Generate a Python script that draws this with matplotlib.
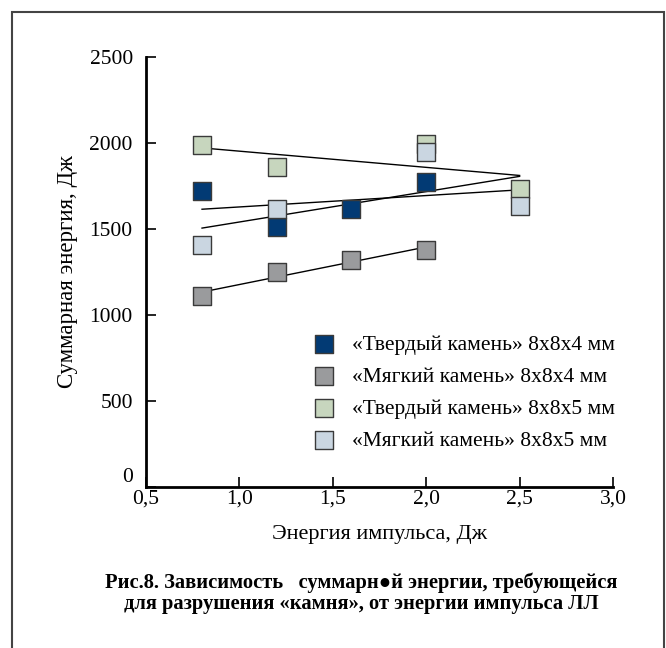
import numpy as np
import matplotlib
matplotlib.use('Agg')
from matplotlib import pyplot as plt
from matplotlib.patches import Rectangle

plt.rcParams['font.family'] = ['Liberation Serif', 'DejaVu Serif']

# Data
x_hard4 = [0.8, 1.2, 1.6, 2.0]
y_hard4 = [1720, 1510, 1616, 1773]
x_soft4 = [0.8, 1.2, 1.6, 2.0]
y_soft4 = [1110, 1250, 1320, 1378]
x_hard5 = [0.8, 1.2, 2.0, 2.5]
y_hard5 = [1988, 1860, 1994, 1733]
x_soft5 = [0.8, 1.2, 2.0, 2.5]
y_soft5 = [1407, 1616, 1948, 1634]

labels = ['«Твердый камень» 8x8x4 мм', '«Мягкий камень» 8x8x4 мм',
          '«Твердый камень» 8x8x5 мм', '«Мягкий камень» 8x8x5 мм']
colors = ['#023a74', '#9a9b9d', '#c7d6be', '#cad6e1']
# x range of each trend line
fit_ranges = [(0.8, 2.5), (0.8, 2.0), (0.8, 2.5), (0.8, 2.5)]

series = [(x_hard4, y_hard4), (x_soft4, y_soft4),
          (x_hard5, y_hard5), (x_soft5, y_soft5)]

fig = plt.figure(figsize=(6.66, 6.48), dpi=100)
ax = fig.add_axes([0.2192, 0.2485, 0.7012, 0.6635])

# trend lines (least squares)
for (xs, ys), (x0, x1) in zip(series, fit_ranges):
    k, b = np.polyfit(xs, ys, 1)
    xx = np.array([x0, x1])
    ax.plot(xx, k * xx + b, color='black', lw=1.0, zorder=2)

for (xs, ys), c, lab in zip(series, colors, labels):
    ax.scatter(xs, ys, marker='s', s=150, c=c, edgecolors='#3a3a3a',
               linewidths=1.0, label=lab, zorder=3)

ax.set_xlim(0.5, 3.0)
ax.set_ylim(0, 2500)
ax.set_xticks([0.5, 1.0, 1.5, 2.0, 2.5, 3.0])
ax.set_xticklabels(['0,5', '1,0', '1,5', '2,0', '2,5', '3,0'])
ax.set_yticks([0, 500, 1000, 1500, 2000, 2500])
for s in ['top', 'right']:
    ax.spines[s].set_visible(False)
for s in ['left', 'bottom']:
    ax.spines[s].set_linewidth(2.0)
ax.tick_params(direction='in', length=7, width=1.2, labelsize=15.5,
               colors='black')
ax.tick_params(axis='y', pad=9.5)
ax.tick_params(axis='x', pad=1.5)
# the "0" sits a little above the x axis
ax.yaxis.get_major_ticks()[0].label1.set_verticalalignment('bottom')

ax.set_xlabel('Энергия импульса, Дж', fontsize=16, labelpad=12)
ax.set_ylabel('Суммарная энергия, Дж', fontsize=16.5, labelpad=8)

ax.legend(loc='lower right', bbox_to_anchor=(1.046, 0.039), frameon=False,
          fontsize=15.5, handletextpad=0.32, labelspacing=0.55,
          markerscale=1.0, scatterpoints=1)

fig.text(0.542, 0.085, 'Рис.8. Зависимость   суммарн●й энергии, требующейся\n'
         'для разрушения «камня», от энергии импульса ЛЛ',
         ha='center', va='center', fontsize=14.8, fontweight='bold',
         linespacing=1.05)

# outer frame
fig.patches.append(Rectangle((0.018, -0.05), 0.979, 1.031,
                             transform=fig.transFigure, fill=False,
                             edgecolor='#444444', lw=1.5))

fig.savefig('out.png', dpi=100)
